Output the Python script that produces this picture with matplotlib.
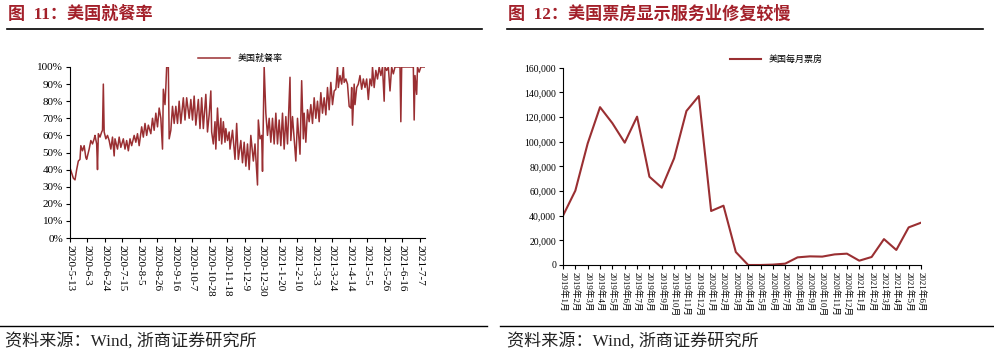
import matplotlib
matplotlib.use('Agg')
import matplotlib.pyplot as plt
from matplotlib.lines import Line2D
from matplotlib.ticker import FuncFormatter

plt.rcParams['font.family'] = ['Liberation Serif', 'Noto Sans CJK SC']

# ---- left: US dining rate, daily from 2020-5-13 (day offsets) ----
dine_days = [0, 2, 4, 6, 8, 10, 12, 13, 15, 17, 19, 20, 23, 25, 27, 29, 30, 32, 33, 34,
             36, 38, 39, 40, 41, 43, 45, 47, 49, 51, 53, 54, 57, 59, 61, 64, 66, 68, 70, 72,
             74, 77, 79, 81, 83, 86, 88, 90, 92, 94, 97, 99, 101, 103, 105, 107, 109, 111, 112, 114,
             115, 116, 118, 119, 121, 123, 125, 127, 129, 131, 133, 136, 138, 140, 143, 145, 147, 149, 151, 154,
             156, 158, 160, 163, 165, 167, 169, 170, 172, 174, 175, 177, 179, 181, 182, 184, 186, 187, 189, 191,
             192, 195, 198, 200, 202, 205, 207, 209, 211, 213, 215, 217, 220, 222, 225, 226, 228, 230, 231, 233,
             235, 237, 239, 241, 243, 245, 247, 249, 251, 253, 255, 257, 259, 261, 264, 265, 267, 270, 271, 273,
             276, 278, 280, 281, 283, 285, 287, 289, 291, 293, 295, 297, 299, 301, 303, 305, 307, 309, 311, 313,
             315, 317, 319, 321, 322, 324, 326, 328, 329, 331, 333, 335, 337, 338, 339, 341, 342, 344, 346, 348,
             350, 352, 354, 356, 358, 360, 362, 363, 365, 367, 369, 371, 373, 375, 377, 378, 380, 382, 384, 386,
             388, 390, 396, 397, 398, 412, 413, 414, 416, 417, 419, 421, 426]
dine_rate = [41, 38, 35, 34, 40, 45, 46, 54, 51, 54, 47, 46, 52, 57, 55, 58, 60, 55, 40, 61,
             59, 62, 63, 90, 62, 58, 60, 57, 52, 59, 48, 58, 52, 59, 53, 58, 52, 57, 51, 58,
             54, 60, 56, 61, 54, 65, 59, 67, 60, 66, 61, 70, 63, 73, 65, 76, 70, 52, 87, 78,
             88, 100, 100, 58, 63, 77, 67, 77, 67, 80, 67, 82, 69, 82, 70, 81, 69, 83, 66, 81,
             64, 82, 64, 84, 62, 72, 86, 62, 55, 68, 52, 76, 57, 70, 55, 68, 56, 64, 57, 62,
             52, 63, 46, 67, 46, 57, 44, 56, 42, 55, 40, 60, 45, 55, 31, 69, 58, 60, 39, 100,
             73, 60, 70, 56, 70, 55, 73, 55, 69, 54, 73, 52, 71, 55, 94, 57, 71, 52, 45, 70,
             49, 92, 58, 73, 56, 75, 68, 78, 67, 82, 70, 80, 68, 85, 73, 82, 72, 88, 75, 91,
             78, 86, 87, 100, 88, 95, 90, 100, 91, 93, 90, 77, 76, 88, 66, 90, 78, 88, 90, 95,
             87, 93, 88, 93, 81, 93, 89, 100, 88, 98, 93, 100, 95, 100, 80, 100, 98, 100, 86, 100,
             96, 100, 100, 68, 100, 100, 69, 95, 84, 100, 97, 100, 100]
dine_tick_days = list(range(0, 421, 21))
dine_tick_labels = ['2020-5-13', '2020-6-3', '2020-6-24', '2020-7-15', '2020-8-5', '2020-8-26',
                    '2020-9-16', '2020-10-7', '2020-10-28', '2020-11-18', '2020-12-9', '2020-12-30',
                    '2021-1-20', '2021-2-10', '2021-3-3', '2021-3-24', '2021-4-14', '2021-5-5',
                    '2021-5-26', '2021-6-16', '2021-7-7']

# ---- right: US monthly box office ----
months = ['2019年1月', '2019年2月', '2019年3月', '2019年4月', '2019年5月', '2019年6月',
          '2019年7月', '2019年8月', '2019年9月', '2019年10月', '2019年11月', '2019年12月',
          '2020年1月', '2020年2月', '2020年3月', '2020年4月', '2020年5月', '2020年6月',
          '2020年7月', '2020年8月', '2020年9月', '2020年10月', '2020年11月', '2020年12月',
          '2021年1月', '2021年2月', '2021年3月', '2021年4月', '2021年5月', '2021年6月']
box_office = [40000, 60300, 98600, 128000, 115000, 99200, 120300, 71600, 62700, 86500,
              124900, 137000, 43800, 48100, 10500, 0, 0, 300, 1100, 6200,
              7000, 6800, 8600, 9200, 3500, 6500, 21000, 12200, 30500, 34300]

line_c = '#9a2f32'
title_c = '#a3202a'

fig = plt.figure(figsize=(9.95, 3.57), dpi=100)

# headers / footers
for x0, x1, tx, title in [(7, 482, 8, '图  11：美国就餐率'),
                          (507, 983, 508, '图  12：美国票房显示服务业修复较慢')]:
    fig.add_artist(Line2D([x0 / 995, x1 / 995], [1 - 29 / 357] * 2, color='black', lw=1.2))
    fig.text(tx / 995, 1 - 14 / 357, title, color=title_c, fontsize=12.3, fontweight='bold',
             va='center', ha='left')
for x0, x1, tx in [(0, 487, 5), (500, 995, 507)]:
    fig.add_artist(Line2D([x0 / 995, x1 / 995], [1 - 326 / 357] * 2, color='black', lw=1.0))
    fig.text(tx / 995, 1 - 342 / 357, '资料来源：Wind, 浙商证券研究所', fontsize=12.3,
             va='center', ha='left', color='#222222')

# left chart
ax1 = fig.add_axes([70 / 995, 1 - 238 / 357, 355 / 995, 171 / 357])
ax1.plot(dine_days, dine_rate, color=line_c, lw=1.1, label='美国就餐率')
ax1.set_xlim(0, 426)
ax1.set_ylim(0, 100)
ax1.set_yticks(range(0, 101, 10))
ax1.yaxis.set_major_formatter(FuncFormatter(lambda v, p: f'{v:.0f}%'))
ax1.set_xticks(dine_tick_days)
ax1.set_xticklabels(dine_tick_labels, rotation=-90, fontsize=8)
ax1.tick_params(axis='y', labelsize=8, length=3, width=0.8, pad=2)
ax1.tick_params(axis='x', length=3, width=0.8, pad=2)
ax1.legend(loc='center', bbox_to_anchor=(0.48, 1.05), frameon=False,
           handlelength=3.5, prop={'family': ['Noto Sans CJK SC'], 'size': 6.5})

# right chart
ax2 = fig.add_axes([563 / 995, 1 - 265 / 357, 358 / 995, 197.3 / 357])
ax2.plot(range(len(months)), box_office, color=line_c, lw=1.5, label='美国每月票房')
ax2.set_xlim(0, len(months) - 1)
ax2.set_ylim(0, 160000)
ax2.set_yticks(range(0, 160001, 20000))
ax2.yaxis.set_major_formatter(FuncFormatter(lambda v, p: f'{v:,.0f}'))
ax2.set_xticks(range(len(months)))
ax2.set_xticklabels(months, rotation=-90, fontsize=6.3)
ax2.tick_params(axis='y', labelsize=7, length=3, width=0.8, pad=2)
ax2.tick_params(axis='x', length=3, width=0.8, pad=2)
ax2.legend(loc='center', bbox_to_anchor=(0.595, 1.04), frameon=False,
           handlelength=3.5, prop={'family': ['Noto Sans CJK SC'], 'size': 6.5})

for ax in (ax1, ax2):
    for s in ('top', 'right'):
        ax.spines[s].set_visible(False)
    for s in ('left', 'bottom'):
        ax.spines[s].set_linewidth(0.8)

fig.savefig('out.png', dpi=100)
